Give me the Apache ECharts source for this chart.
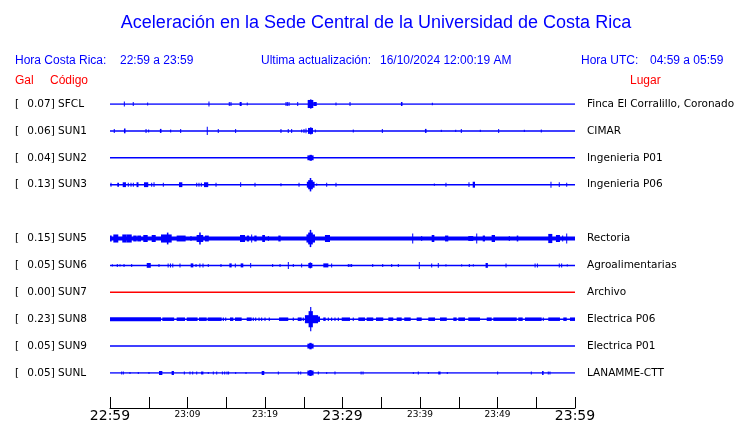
<!DOCTYPE html>
<html>
<head>
<meta charset="utf-8">
<script src="https://cdn.jsdelivr.net/npm/echarts@6/dist/echarts.min.js"></script>
<style>
html,body{margin:0;padding:0;background:#fff;}
#chart{width:740px;height:423px;}
</style>
</head>
<body>
<div id="chart"></div>
<script>
// ---- Data ----
// time axis: minutes after 22:59 (local), one hour window
const tickLabels = ['22:59','','23:09','','23:19','','23:29','','23:39','','23:49','','23:59'];
// stations (row 4 = missing SUN4, left blank)
const codes  = ['SFCL','SUN1','SUN2','SUN3',null,'SUN5','SUN6','SUN7','SUN8','SUN9','SUNL'];
const galMax = ['0.07','0.06','0.04','0.13',null,'0.15','0.05','0.00','0.23','0.05','0.05'];
const places = ['Finca El Corralillo, Coronado','CIMAR','Ingenieria P01','Ingenieria P06',null,
                'Rectoria','Agroalimentarias','Archivo','Electrica P06','Electrica P01','LANAMME-CTT'];
const deadStations = ['SUN7'];

// spikes: [minute, half-amplitude (row units), duration (min, optional)]
const sfclSpikes = [[1.85,0.09],[3.0,0.075],[4.86,0.055],[12.77,0.09],[15.39,0.075],[15.61,0.075],[16.86,0.075,0.26],[17.71,0.055],[22.71,0.075],[22.88,0.075],[23.1,0.075],[24.22,0.075],
  [25.87,0.15,0.72],[25.9,0.17,0.2],[26.45,0.075,0.45],[29.16,0.055],[30.97,0.075],[37.64,0.075,0.2],[41.59,0.045]];
const sun1Spikes = [[0.55,0.075],[1.9,0.09,0.2],[4.65,0.075],[4.99,0.055],[6.54,0.075,0.2],[7.83,0.055],[9.12,0.075],[12.55,0.15],[13.97,0.075],[16.21,0.075],[22.06,0.075],[23.0,0.075],[23.44,0.075],[24.73,0.055],[25.03,0.075],[25.29,0.09],
  [25.87,0.11,0.65],[25.9,0.13,0.2],[26.49,0.055],[31.39,0.055],[35.14,0.075],[40.74,0.075,0.2],[42.75,0.04],[44.61,0.04],[45.33,0.075],[47.78,0.04],[50.15,0.075],[53.46,0.04],[55.65,0.055]];
const sun2Spikes = [[25.87,0.09,0.8],[25.9,0.11,0.3]];
const sun3Spikes = [[0.13,0.075],[1.05,0.075,0.22],[1.85,0.09,0.42],[2.36,0.075],[2.71,0.075],[3.01,0.075],[3.55,0.09,0.25],[4.66,0.09,0.55],[5.38,0.075],[5.68,0.09],[6.88,0.075],[9.12,0.09,0.43],[11.19,0.075],[11.48,0.075],[11.78,0.075],[12.4,0.09,0.55],[13.68,0.075],[16.86,0.09],[18.71,0.075],[22.06,0.055],[24.39,0.075],
  [25.9,0.11,1.0],[25.87,0.17,0.6],[25.87,0.25,0.2],[26.67,0.04],[27.96,0.075],[29.16,0.075],[41.85,0.04],[43.35,0.075],[46.32,0.09],[46.95,0.11,0.3],[56.9,0.11],[57.97,0.09],[58.93,0.075]];
const sun5Spikes = [[0.11,0.11,0.22],[0.75,0.15,0.64],[1.87,0.15,0.57],[2.48,0.15,0.65],[3.22,0.11,0.44],[3.76,0.11,0.48],[4.58,0.13,0.57],[5.64,0.13,0.52],[7.27,0.15,1.38],[7.44,0.22,0.2],[9.18,0.11,1.16],[10.45,0.09],[11.6,0.13,0.85],[11.61,0.22,0.2],[12.5,0.11,0.5],[17.1,0.13,0.65],[17.8,0.11,0.3],[18.28,0.15],[18.77,0.11,0.3],[19.82,0.13,0.35],[20.43,0.09],[21.87,0.11,0.3],
  [25.9,0.15,1.1],[25.87,0.22,0.6],[25.87,0.32,0.2],[28.06,0.13,0.65],[39.06,0.185],[40.22,0.09],[41.68,0.13,0.34],[43.44,0.11,0.42],[46.55,0.09,0.65],[47.32,0.185],[48.24,0.11,0.3],[49.46,0.13,0.43],[51.52,0.09],[52.58,0.11,0.2],[56.81,0.17,0.52],[57.8,0.13,0.52],[58.41,0.11],[58.93,0.185]];
const sun6Spikes = [[0.3,0.04],[0.94,0.055],[1.29,0.04],[1.81,0.055],[2.8,0.055],[5.0,0.09,0.52],[6.32,0.055],[7.5,0.075],[7.8,0.075],[8.1,0.075],[9.03,0.075],[10.58,0.075,0.34],[11.1,0.055],[11.6,0.075],[12.0,0.075],[12.68,0.055],[14.32,0.055],[15.55,0.075,0.3],[16.17,0.075],[17.03,0.075,0.34],[18.15,0.09],[20.99,0.055],[21.94,0.055],[23.01,0.13],[23.65,0.055],[24.73,0.075],
  [25.85,0.09,0.52],[25.85,0.11,0.2],[27.85,0.075,0.65],[28.6,0.075],[30.75,0.055],[30.97,0.055],[31.18,0.055],[33.9,0.055],[35.19,0.055],[36.35,0.055],[37.2,0.055],[39.91,0.13],[41.51,0.075],[42.36,0.09],[43.35,0.04],[45.38,0.04],[46.36,0.055],[46.88,0.04],[48.61,0.09,0.3],[51.1,0.075],[54.85,0.075],[55.15,0.075],[57.97,0.075],[58.28,0.075],[59.0,0.04]];
const sun7Spikes = [];
const sun8Spikes = [[26.0,0.15,1.7],[25.9,0.3,0.55],[25.9,0.45,0.15],[26.95,0.1,0.3]];
const sun9Spikes = [[25.87,0.09,0.8],[25.87,0.12,0.3]];
const sunlSpikes = [[1.51,0.055],[1.72,0.055],[2.58,0.04],[3.65,0.04],[5.03,0.04],[6.54,0.075,0.43],[8.1,0.075,0.3],[9.59,0.055],[10.32,0.055],[10.67,0.055],[11.19,0.055],[11.9,0.055,0.3],[12.68,0.04],[13.33,0.055],[13.77,0.055],[14.5,0.055],[14.8,0.055],[15.1,0.055],[15.3,0.055],[16.22,0.04],[17.55,0.04],[19.74,0.075,0.34],[21.72,0.055],[24.3,0.055],[24.61,0.055],
  [25.87,0.09,0.8],[25.87,0.11,0.3],[26.88,0.055],[27.96,0.04],[29.03,0.055],[32.4,0.055],[32.65,0.055],[39.14,0.04],[39.78,0.055],[41.07,0.04],[42.5,0.055,0.3],[43.52,0.04],[50.02,0.055],[54.36,0.055],[55.85,0.075,0.2],[56.55,0.055],[56.77,0.055]];

// continuous noise bands: [start minute, end minute, half-amplitude]
const sun5Bands = [[0,60,0.075]];
const sun8Bands = [[0,6.58,0.075],[6.75,8.28,0.065],[8.6,9.68,0.065],[9.9,11.3,0.065],[11.48,12.48,0.065],[12.6,14.41,0.065],[14.55,14.7,0.065],[14.86,15.0,0.065],[15.48,15.91,0.065],[16.13,16.99,0.065],[17.64,18.28,0.065],[18.42,18.56,0.065],[18.73,18.87,0.065],[19.16,19.3,0.065],[19.5,19.64,0.065],[19.93,20.07,0.065],[20.48,20.62,0.065],[21.81,23.0,0.065],[23.58,23.72,0.065],[24.22,24.73,0.065],[24.87,25.01,0.065],[27.52,27.83,0.065],[28.1,28.24,0.065],[28.53,28.67,0.065],[28.96,29.1,0.065],[29.39,29.53,0.065],[29.9,30.97,0.065],[31.32,31.46,0.065],[32.04,32.9,0.065],[33.12,33.97,0.065],[34.32,35.26,0.065],[35.91,36.55,0.065],[36.99,37.64,0.065],[37.97,38.8,0.065],[39.57,40.22,0.065],[41.07,41.94,0.065],[42.58,43.45,0.065],[44.3,44.73,0.065],[44.94,45.81,0.065],[46.23,47.74,0.065],[48.61,49.25,0.065],[49.46,52.48,0.065],[52.68,53.25,0.065],[53.55,55.7,0.065],[55.84,55.98,0.065],[56.55,58.06,0.065],[58.49,58.93,0.065],[59.35,60,0.065]];

const spikeSets = [sfclSpikes,sun1Spikes,sun2Spikes,sun3Spikes,[],sun5Spikes,sun6Spikes,sun7Spikes,sun8Spikes,sun9Spikes,sunlSpikes];
const bandSets  = [[],[],[],[],[],sun5Bands,[],[],sun8Bands,[],[]];

// ---- Build ----
const BLUE = '#0000ff', RED = '#ff0000';
const DEF_DUR = 0.13;
const markData = [];
spikeSets.forEach((set, row) => {
  set.forEach(s => {
    const d = s[2] || DEF_DUR;
    markData.push([s[0] - d/2, s[0] + d/2, s[1], row]);
  });
});
bandSets.forEach((set, row) => {
  set.forEach(b => markData.push([b[0], b[1], b[2], row]));
});

const baseSeries = [];
codes.forEach((c, row) => {
  if (!c) return;
  baseSeries.push({
    type: 'line', silent: true, symbol: 'none', animation: false,
    data: [[0,row],[60,row]],
    lineStyle: { width: 1.5, color: deadStations.includes(c) ? RED : BLUE },
    z: 2
  });
});

const chart = echarts.init(document.getElementById('chart'));
const option = {
  animation: false,
  grid: { left: 110, width: 465, top: 104, height: 270 },
  xAxis: {
    type: 'value', min: 0, max: 60, interval: 5, position: 'bottom', offset: 35,
    axisLine: { show: true, onZero: false, lineStyle: { color: '#000', width: 1 } },
    axisTick: { show: true, inside: true, length: 11, lineStyle: { color: '#000', width: 1 } },
    splitLine: { show: false },
    axisLabel: {
      margin: 1, showMinLabel: true, showMaxLabel: true,
      formatter: v => {
        const t = tickLabels[Math.round(v/5)] || '';
        if (!t) return '';
        return (v % 30 === 0) ? '{big|' + t + '}' : '{small|' + t + '}';
      },
      rich: {
        big: { fontFamily: 'DejaVu Sans', fontSize: 14, color: '#000' },
        small: { fontFamily: 'DejaVu Sans', fontSize: 9, color: '#000', padding: [1,0,0,0] }
      }
    }
  },
  yAxis: [{
    type: 'value', min: 0, max: 10, interval: 1, inverse: true,
    axisLine: { show: false }, axisTick: { show: false }, splitLine: { show: false },
    axisLabel: {
      margin: 95, align: 'left',
      formatter: v => {
        const i = Math.round(v);
        if (!codes[i]) return '';
        return '{b|[}{v|' + galMax[i] + '] ' + codes[i] + '}';
      },
      rich: {
        b: { fontFamily: 'DejaVu Sans', fontSize: 10.5, color: '#000', width: 12.3 },
        v: { fontFamily: 'DejaVu Sans', fontSize: 10.5, color: '#000' }
      }
    }
  }, {
    type: 'value', min: 0, max: 10, interval: 1, inverse: true, position: 'right',
    axisLine: { show: false }, axisTick: { show: false }, splitLine: { show: false },
    axisLabel: {
      margin: 12, fontFamily: 'DejaVu Sans', fontSize: 10.5, color: '#000',
      formatter: v => places[Math.round(v)] || ''
    }
  }],
  series: baseSeries.concat([{
    type: 'custom', silent: true, z: 3,
    data: markData,
    encode: { x: [0,1], y: 3 },
    renderItem: (params, api) => {
      const row = api.value(3);
      const a = api.coord([api.value(0), row]);
      const b = api.coord([api.value(1), row]);
      const h = api.size([0, api.value(2)])[1];
      const w = Math.max(b[0] - a[0], 1);
      return { type: 'rect', shape: { x: a[0], y: a[1] - h, width: w, height: 2*h }, style: { fill: BLUE } };
    }
  }]),
  graphic: [
    { type: 'text', x: 376, y: 23, style: { text: 'Aceleración en la Sede Central de la Universidad de Costa Rica', font: '18px "Liberation Sans"', fill: BLUE, align: 'center', verticalAlign: 'middle' } },
    { type: 'text', x: 15, y: 61, style: { text: 'Hora Costa Rica:', font: '12px "Liberation Sans"', fill: BLUE, verticalAlign: 'middle' } },
    { type: 'text', x: 120, y: 61, style: { text: '22:59 a 23:59', font: '12px "Liberation Sans"', fill: BLUE, verticalAlign: 'middle' } },
    { type: 'text', x: 261, y: 61, style: { text: 'Ultima actualización:', font: '12px "Liberation Sans"', fill: BLUE, verticalAlign: 'middle' } },
    { type: 'text', x: 380, y: 61, style: { text: '16/10/2024 12:00:19 AM', font: '12px "Liberation Sans"', fill: BLUE, verticalAlign: 'middle' } },
    { type: 'text', x: 581, y: 61, style: { text: 'Hora UTC:', font: '12px "Liberation Sans"', fill: BLUE, verticalAlign: 'middle' } },
    { type: 'text', x: 650, y: 61, style: { text: '04:59 a 05:59', font: '12px "Liberation Sans"', fill: BLUE, verticalAlign: 'middle' } },
    { type: 'text', x: 15, y: 81, style: { text: 'Gal', font: '12px "Liberation Sans"', fill: RED, verticalAlign: 'middle' } },
    { type: 'text', x: 50, y: 81, style: { text: 'Código', font: '12px "Liberation Sans"', fill: RED, verticalAlign: 'middle' } },
    { type: 'text', x: 630, y: 81, style: { text: 'Lugar', font: '12px "Liberation Sans"', fill: RED, verticalAlign: 'middle' } }
  ]
};
chart.setOption(option);
</script>
</body>
</html>
